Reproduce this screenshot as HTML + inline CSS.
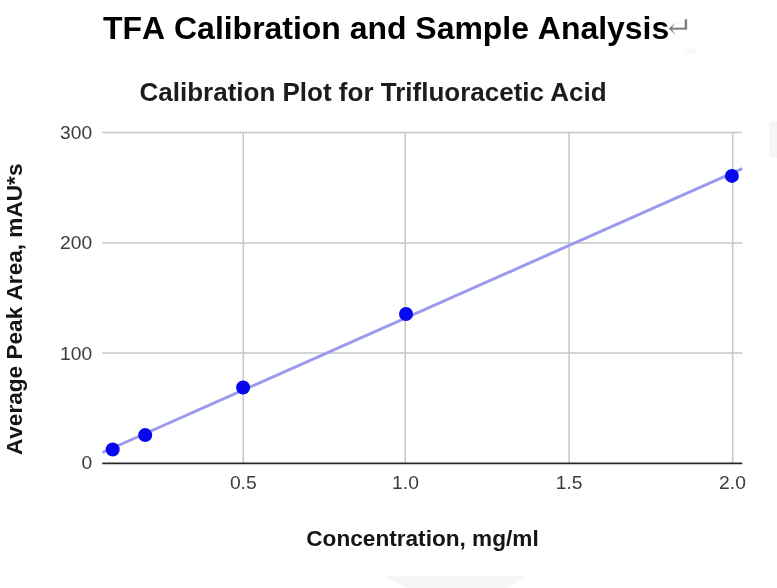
<!DOCTYPE html>
<html lang="en">
<head>
<meta charset="utf-8">
<title>TFA Calibration and Sample Analysis</title>
<style>
  html, body { margin: 0; padding: 0; background: #ffffff; }
  body { width: 777px; height: 588px; overflow: hidden; position: relative;
         font-family: "Liberation Sans", Arial, sans-serif; }
  svg { position: absolute; left: 0; top: 0; display: block; }
  text { font-family: "Liberation Sans", Arial, sans-serif; }
  .doc-title { font-weight: bold; font-size: 31.95px; fill: #000000; font-kerning: none; }
  .ret { font-size: 30px; fill: #7d7d7d; font-family: "DejaVu Serif", "DejaVu Sans", serif; }
  .chart-title { font-weight: bold; font-size: 26px; fill: #1c1c1c; }
  .tick { font-size: 19.25px; fill: #3c3c3c; }
  .axis-title { font-weight: bold; font-size: 22.62px; fill: #151515; font-kerning: none; }
</style>
</head>
<body>
<svg width="777" height="588" viewBox="0 0 777 588">
  <rect x="0" y="0" width="777" height="588" fill="#ffffff"/>

  <!-- faint artefacts -->
  <polygon points="382.5,575.7 525.5,575.7 507,588 406.6,588" fill="#f6f6f6"/>
  <rect x="769.5" y="121" width="12" height="37" rx="4" fill="#f5f5f5"/>
  <ellipse cx="691" cy="51" rx="6" ry="2.5" fill="#f7f7f7"/>

  <!-- document heading -->
  <text class="doc-title" x="103.1" y="38.7">TFA Calibration and Sample Analysis</text>
  <clipPath id="retclip"><rect x="660" y="19.3" width="40" height="30"/></clipPath>
  <g clip-path="url(#retclip)"><text class="ret" transform="translate(662.6,36.6) scale(1.24,1.1)" stroke="#ffffff" stroke-width="0.4">↵</text></g>

  <!-- chart title -->
  <text class="chart-title" x="139.5" y="100.9">Calibration Plot for Trifluoracetic Acid</text>

  <!-- gridlines -->
  <g stroke="#c6c6c6" stroke-width="1.5" fill="none">
    <line x1="102.3" y1="132.5" x2="742.3" y2="132.5"/>
    <line x1="102.3" y1="242.9" x2="742.3" y2="242.9"/>
    <line x1="102.3" y1="353" x2="742.3" y2="353"/>
    <line x1="243.2" y1="132" x2="243.2" y2="463"/>
    <line x1="405.3" y1="132" x2="405.3" y2="463"/>
    <line x1="569.1" y1="132" x2="569.1" y2="463"/>
    <line x1="732.7" y1="132" x2="732.7" y2="463"/>
  </g>
  <!-- baseline -->
  <line x1="102.3" y1="463.3" x2="742.3" y2="463.3" stroke="#2a2a2a" stroke-width="1.8"/>

  <!-- trend line -->
  <line x1="102.5" y1="452.5" x2="742.3" y2="168.6" stroke="#9b9bee" stroke-width="3"/>

  <!-- points -->
  <g fill="#0808ee">
    <circle cx="112.7" cy="449.5" r="7"/>
    <circle cx="145.2" cy="435.1" r="7"/>
    <circle cx="243.1" cy="387.5" r="7"/>
    <circle cx="406" cy="314" r="7"/>
    <circle cx="731.9" cy="175.9" r="7"/>
  </g>

  <!-- y tick labels -->
  <g class="tick" text-anchor="end">
    <text x="92.1" y="139">300</text>
    <text x="92.1" y="249">200</text>
    <text x="92.1" y="360">100</text>
    <text x="92.1" y="469">0</text>
  </g>
  <!-- x tick labels -->
  <g class="tick" text-anchor="middle">
    <text x="243.3" y="489">0.5</text>
    <text x="405.5" y="489">1.0</text>
    <text x="569.2" y="489">1.5</text>
    <text x="732.5" y="489">2.0</text>
  </g>

  <!-- axis titles -->
  <text class="axis-title" text-anchor="middle" x="422.5" y="546.1">Concentration, mg/ml</text>
  <text class="axis-title" text-anchor="middle" transform="translate(21.6,309.3) rotate(-90)">Average Peak Area, mAU*s</text>
</svg>
</body>
</html>
